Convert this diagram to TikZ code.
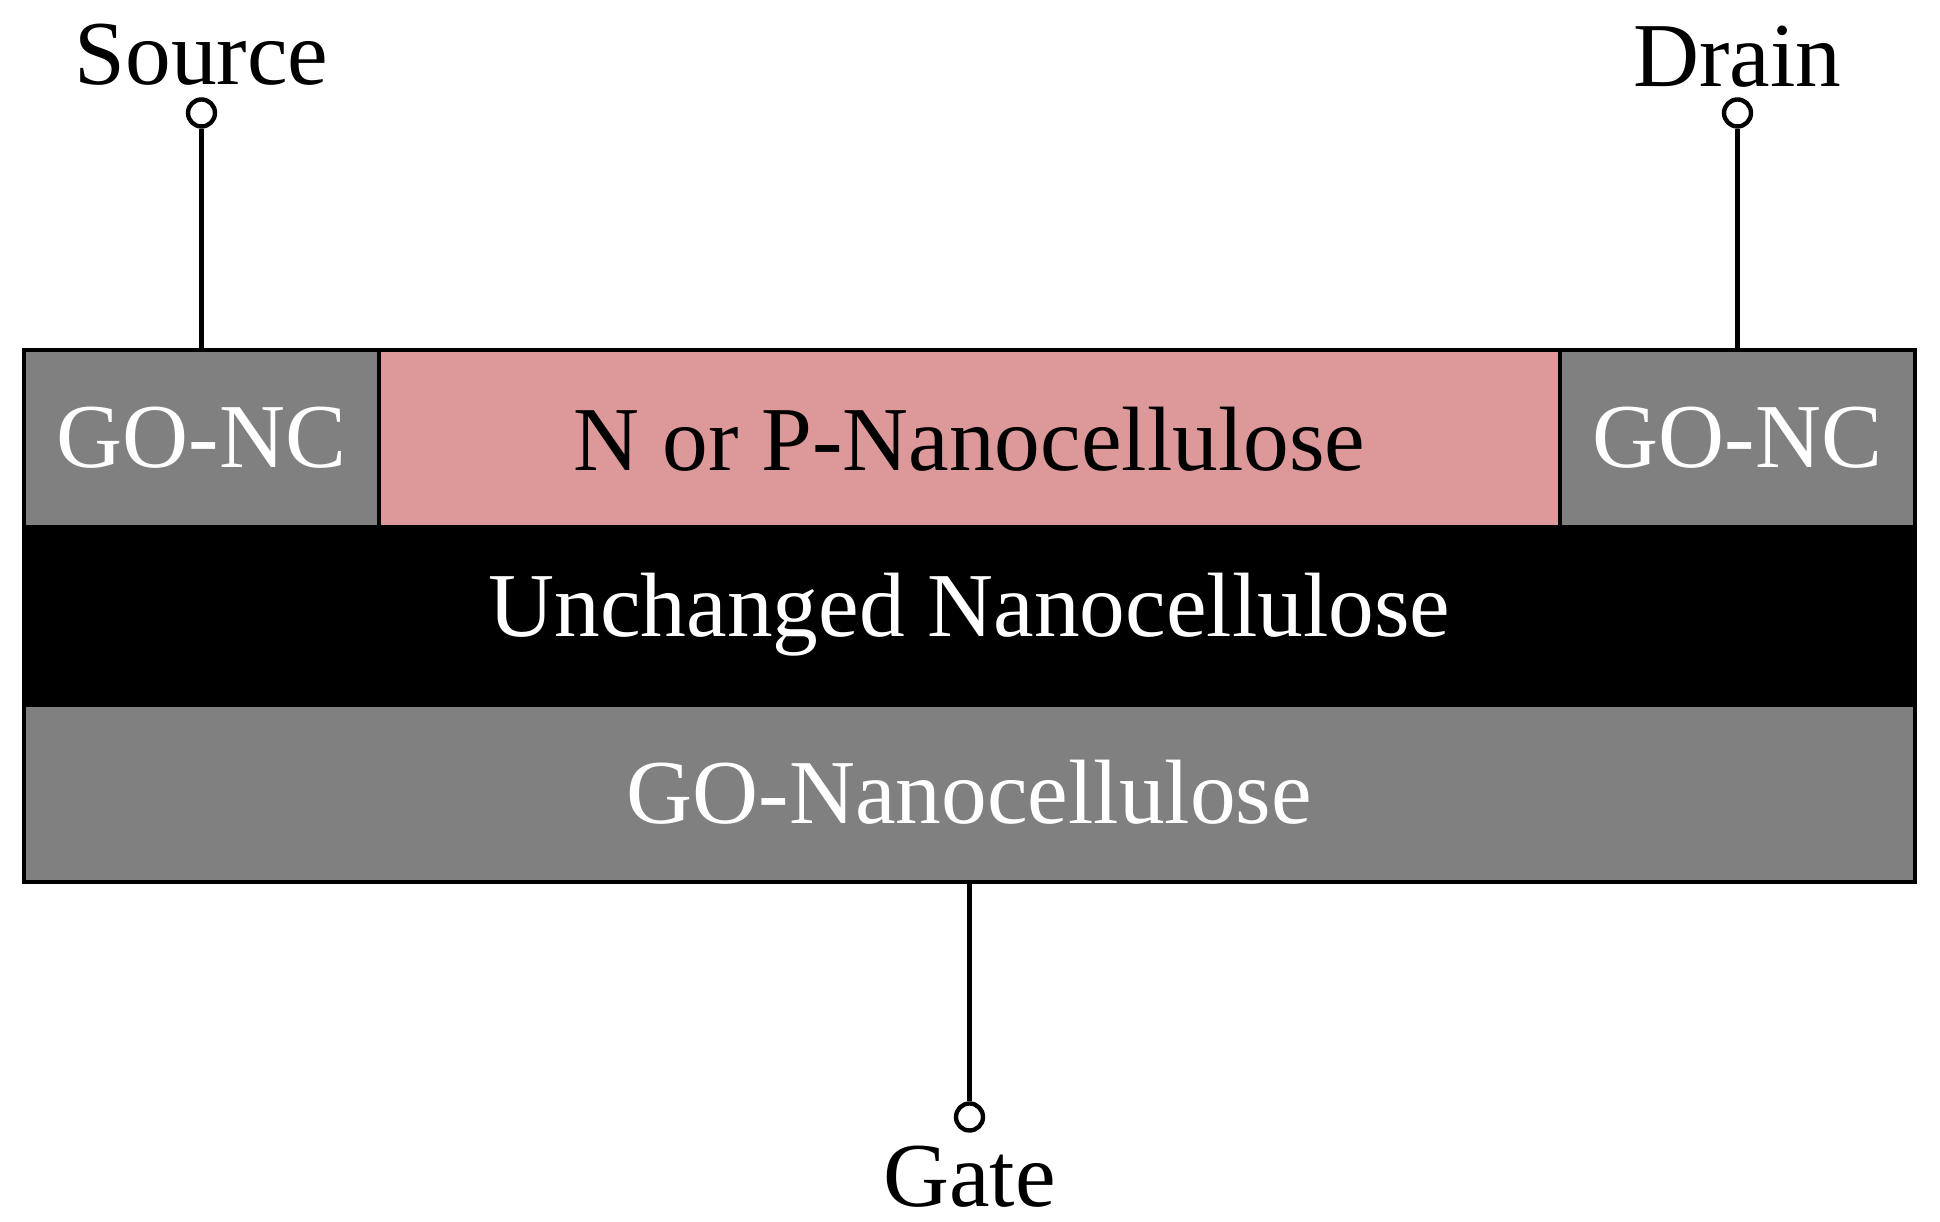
\documentclass[tikz,border=0pt]{standalone}
\usepackage{xcolor}
\usepackage{fontspec}
\setmainfont{Liberation Serif}
\definecolor{channelpink}{HTML}{DD9999}
\definecolor{layergray}{HTML}{808080}
\tikzset{
  layer/.style={rectangle, draw=black, line width=1.25pt, inner sep=0pt, minimum height=#1},
  terminal/.style={circle, draw=black, fill=white, line width=1.25pt, inner sep=0pt, minimum size=0.27cm},
  caption/.style={anchor=base, inner sep=0pt, font=\fontsize{26}{30}\selectfont}
}

\begin{document}
\begin{tikzpicture}
            \useasboundingbox (0,0) rectangle (19.4,12.22);
            % Camadas do transistor
            \node at (9.695,4.285) (gatelayer) [layer=1.77cm, fill=layergray, minimum width=18.905cm] {};
            \node at (9.695,6.08) (bulk) [layer=1.78cm, fill=black, minimum width=18.905cm] {};
            \node at (9.695,7.835) (channel) [layer=1.77cm, fill=channelpink, minimum width=11.815cm] {};
            \node at (2.015,7.835) (goncleft) [layer=1.77cm, fill=layergray, minimum width=3.545cm] {};
            \node at (17.375,7.835) (goncright) [layer=1.77cm, fill=layergray, minimum width=3.545cm] {};
            % Textos das camadas
            \node at (2.015,7.545) (goncleftlabel) [caption, text=white] {GO-NC};
            \node at (17.375,7.545) (goncrightlabel) [caption, text=white] {GO-NC};
            \node at (9.695,7.515) (channellabel) [caption] {N or P-Nanocellulose};
            \node at (9.695,5.855) (bulklabel) [caption, text=white] {Unchanged Nanocellulose};
            \node at (9.695,3.985) (gatelayerlabel) [caption, text=white] {GO-Nanocellulose};
            % Terminais
            \node at (2.015,11.09) (source) [terminal] {};
            \node at (17.375,11.09) (drain) [terminal] {};
            \node at (9.695,1.05) (gate) [terminal] {};
            \node at (2.015,11.375) (sourcelabel) [caption] {Source};
            \node at (17.375,11.355) (drainlabel) [caption] {Drain};
            \node at (9.695,0.15) (gatelabel) [caption] {Gate};
            \draw[line width=1.25pt] (source) -- (goncleft);
            \draw[line width=1.25pt] (drain) -- (goncright);
            \draw[line width=1.25pt] (gate) -- (gatelayer);
        \end{tikzpicture}
\end{document}
